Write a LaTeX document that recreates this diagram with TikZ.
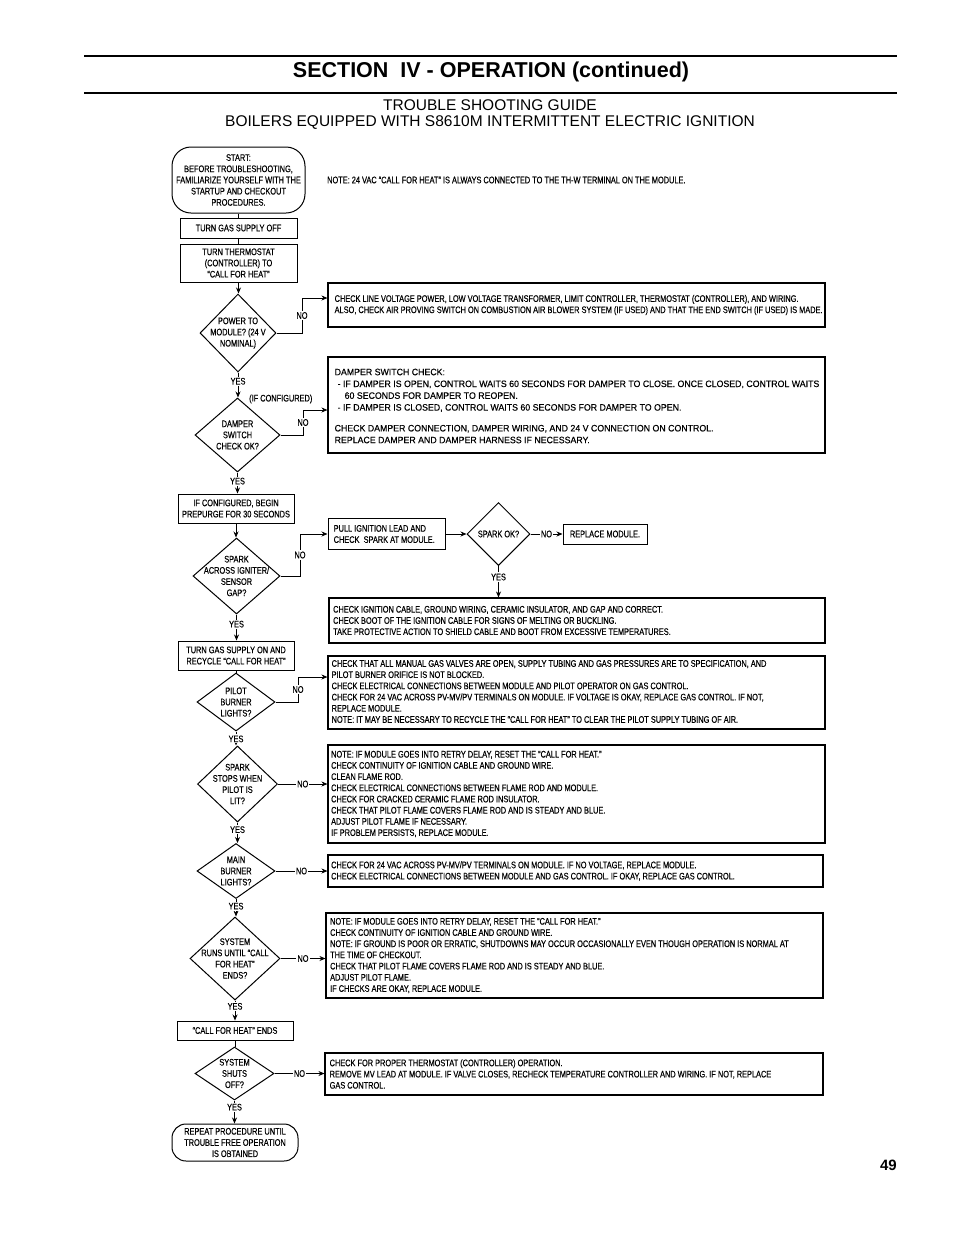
\documentclass[tikz,border=0pt]{standalone}
\usepackage{fontspec}
\setmainfont{Liberation Sans}
\newfontfamily\narrowf[FakeStretch=0.777,FakeBold=0.4]{Liberation Sans}
\newfontfamily\medf[FakeStretch=0.945,FakeBold=0.3]{Liberation Sans}
\usetikzlibrary{shapes.geometric,arrows.meta}
\begin{document}
\begin{tikzpicture}[x=1pt,y=-1pt,
  every node/.style={inner sep=0pt},
  txt/.style={font={\narrowf\fontsize{9.5}{11.2}\selectfont}},
  sbox/.style={draw, line width=1pt, txt, align=center},
  lbox/.style={draw, line width=1.1pt},
  btxt/.style={txt, align=left, anchor=west},
  dia/.style={draw, diamond, line width=1pt},
  dtxt/.style={txt, align=center},
  term/.style={draw, line width=1pt, rounded corners=19pt, txt, align=center},
  conn/.style={line width=0.8pt},
  arr/.style={conn, -{Stealth[length=6pt,width=5pt]}},
  lab/.style={txt, fill=white, inner sep=1.2pt},
]
\fill[white] (0,0) rectangle (954,1235);
\useasboundingbox (0,0) rectangle (954,1235);

% header
\draw[line width=2.5pt] (84,56) -- (897,56);
\node[font={\bfseries\fontsize{21.5}{24}\selectfont}] (title) at (491,72) {SECTION\ \ IV - OPERATION (continued)};
\draw[line width=2.5pt] (84,93) -- (897,93);
\node[font={\fontsize{15.5}{18}\selectfont}] (sub1) at (490,105) {TROUBLE SHOOTING GUIDE};
\node[font={\fontsize{15.5}{18}\selectfont}] (sub2) at (490,123) {BOILERS EQUIPPED WITH S8610M INTERMITTENT ELECTRIC IGNITION};
\node[anchor=east, font={\bfseries\fontsize{15}{18}\selectfont}] (pg) at (897,1165) {49};

% main column
\node[term, minimum width=133pt, minimum height=66pt] (st) at (238.5,180) {START:\\BEFORE TROUBLESHOOTING,\\FAMILIARIZE YOURSELF WITH THE\\STARTUP AND CHECKOUT\\PROCEDURES.};
\node[txt, anchor=west] (note) at (327,180) {NOTE: 24 VAC “CALL FOR HEAT” IS ALWAYS CONNECTED TO THE TH-W TERMINAL ON THE MODULE.};
\node[sbox, minimum width=117pt, minimum height=20pt] (off) at (238.5,228) {TURN GAS SUPPLY OFF};
\node[sbox, minimum width=117pt, minimum height=38pt] (th) at (238.5,263) {TURN THERMOSTAT\\(CONTROLLER) TO\\“CALL FOR HEAT”};

\node[dia, minimum width=76pt, minimum height=78pt] (d1) at (238,333) {};
\node[dtxt] (d1t) at (d1) {POWER TO\\MODULE? (24 V\\NOMINAL)};
\node[lbox, minimum width=497pt, minimum height=44pt] (b1) at (576.5,305) {};
\node[btxt] (b1t) at ([xshift=7pt]b1.west) {CHECK LINE VOLTAGE POWER, LOW VOLTAGE TRANSFORMER, LIMIT CONTROLLER, THERMOSTAT (CONTROLLER), AND WIRING.\\ALSO, CHECK AIR PROVING SWITCH ON COMBUSTION AIR BLOWER SYSTEM (IF USED) AND THAT THE END SWITCH (IF USED) IS MADE.};

\node[dia, minimum width=85pt, minimum height=74pt] (d2) at (237.5,435) {};
\node[dtxt] (d2t) at (d2) {DAMPER\\SWITCH\\CHECK OK?};
\node[txt, anchor=west] (ifc) at (249,399) {(IF CONFIGURED)};
\node[lbox, minimum width=497pt, minimum height=96pt] (b2) at (576.5,405) {};
\node[btxt, font={\medf\fontsize{9.3}{11.8}\selectfont}] (b2t) at ([xshift=7pt,yshift=-1pt]b2.west) {DAMPER SWITCH CHECK:\\\hspace*{3pt}- IF DAMPER IS OPEN, CONTROL WAITS 60 SECONDS FOR DAMPER TO CLOSE. ONCE CLOSED, CONTROL WAITS\\\hspace*{10pt}60 SECONDS FOR DAMPER TO REOPEN.\\\hspace*{3pt}- IF DAMPER IS CLOSED, CONTROL WAITS 60 SECONDS FOR DAMPER TO OPEN.\\[9pt]CHECK DAMPER CONNECTION, DAMPER WIRING, AND 24 V CONNECTION ON CONTROL.\\REPLACE DAMPER AND DAMPER HARNESS IF NECESSARY.};

\node[sbox, minimum width=116pt, minimum height=29pt] (pu) at (236,508.5) {IF CONFIGURED, BEGIN\\PREPURGE FOR 30 SECONDS};

\node[dia, minimum width=87pt, minimum height=76pt] (d3) at (236.5,576) {};
\node[dtxt] (d3t) at (d3) {SPARK\\ACROSS IGNITER/\\SENSOR\\GAP?};
\node[draw, line width=1pt, minimum width=117pt, minimum height=31pt] (pl) at (386.5,534) {};
\node[btxt] (plt) at ([xshift=6pt]pl.west) {PULL IGNITION LEAD AND\\CHECK\ \ SPARK AT MODULE.};
\node[dia, minimum width=63pt, minimum height=63pt] (d4) at (498.5,534) {};
\node[dtxt] (d4t) at (d4) {SPARK OK?};
\node[sbox, minimum width=84pt, minimum height=20pt] (rep) at (605,534) {REPLACE MODULE.};
\node[lbox, minimum width=496pt, minimum height=45pt] (b3) at (577,620.5) {};
\node[btxt] (b3t) at ([xshift=4.5pt]b3.west) {CHECK IGNITION CABLE, GROUND WIRING, CERAMIC INSULATOR, AND GAP AND CORRECT.\\CHECK BOOT OF THE IGNITION CABLE FOR SIGNS OF MELTING OR BUCKLING.\\TAKE PROTECTIVE ACTION TO SHIELD CABLE AND BOOT FROM EXCESSIVE TEMPERATURES.};

\node[sbox, minimum width=116pt, minimum height=29pt] (on) at (236,655.5) {TURN GAS SUPPLY ON AND\\RECYCLE “CALL FOR HEAT”};

\node[dia, minimum width=78pt, minimum height=58pt] (d5) at (236,702) {};
\node[dtxt] (d5t) at (d5) {PILOT\\BURNER\\LIGHTS?};
\node[lbox, minimum width=497pt, minimum height=73pt] (b5) at (576.5,692.5) {};
\node[btxt] (b5t) at ([xshift=4pt,yshift=1pt]b5.west) {CHECK THAT ALL MANUAL GAS VALVES ARE OPEN, SUPPLY TUBING AND GAS PRESSURES ARE TO SPECIFICATION, AND\\PILOT BURNER ORIFICE IS NOT BLOCKED.\\CHECK ELECTRICAL CONNECTIONS BETWEEN MODULE AND PILOT OPERATOR ON GAS CONTROL.\\CHECK FOR 24 VAC ACROSS PV-MV/PV TERMINALS ON MODULE. IF VOLTAGE IS OKAY, REPLACE GAS CONTROL. IF NOT,\\REPLACE MODULE.\\NOTE: IT MAY BE NECESSARY TO RECYCLE THE “CALL FOR HEAT” TO CLEAR THE PILOT SUPPLY TUBING OF AIR.};

\node[dia, minimum width=80pt, minimum height=76pt] (d6) at (237.5,784) {};
\node[dtxt] (d6t) at (d6) {SPARK\\STOPS WHEN\\PILOT IS\\LIT?};
\node[lbox, minimum width=497pt, minimum height=98pt] (b6) at (576.5,794) {};
\node[btxt] (b6t) at ([xshift=3.5pt]b6.west) {NOTE: IF MODULE GOES INTO RETRY DELAY, RESET THE “CALL FOR HEAT.”\\CHECK CONTINUITY OF IGNITION CABLE AND GROUND WIRE.\\CLEAN FLAME ROD.\\CHECK ELECTRICAL CONNECTIONS BETWEEN FLAME ROD AND MODULE.\\CHECK FOR CRACKED CERAMIC FLAME ROD INSULATOR.\\CHECK THAT PILOT FLAME COVERS FLAME ROD AND IS STEADY AND BLUE.\\ADJUST PILOT FLAME IF NECESSARY.\\IF PROBLEM PERSISTS, REPLACE MODULE.};

\node[dia, minimum width=78pt, minimum height=55pt] (d7) at (236,871) {};
\node[dtxt] (d7t) at (d7) {MAIN\\BURNER\\LIGHTS?};
\node[lbox, minimum width=495pt, minimum height=32pt] (b7) at (575.5,871) {};
\node[btxt] (b7t) at ([xshift=3.5pt]b7.west) {CHECK FOR 24 VAC ACROSS PV-MV/PV TERMINALS ON MODULE. IF NO VOLTAGE, REPLACE MODULE.\\CHECK ELECTRICAL CONNECTIONS BETWEEN MODULE AND GAS CONTROL. IF OKAY, REPLACE GAS CONTROL.};

\node[dia, minimum width=90pt, minimum height=83pt] (d8) at (235,958.5) {};
\node[dtxt] (d8t) at (d8) {SYSTEM\\RUNS UNTIL “CALL\\FOR HEAT”\\ENDS?};
\node[lbox, minimum width=497pt, minimum height=85pt] (b8) at (574.5,955.5) {};
\node[btxt] (b8t) at ([xshift=4.5pt]b8.west) {NOTE: IF MODULE GOES INTO RETRY DELAY, RESET THE “CALL FOR HEAT.”\\CHECK CONTINUITY OF IGNITION CABLE AND GROUND WIRE.\\NOTE: IF GROUND IS POOR OR ERRATIC, SHUTDOWNS MAY OCCUR OCCASIONALLY EVEN THOUGH OPERATION IS NORMAL AT\\THE TIME OF CHECKOUT.\\CHECK THAT PILOT FLAME COVERS FLAME ROD AND IS STEADY AND BLUE.\\ADJUST PILOT FLAME.\\IF CHECKS ARE OKAY, REPLACE MODULE.};

\node[sbox, minimum width=116pt, minimum height=19pt] (ends) at (235,1030.5) {“CALL FOR HEAT” ENDS};

\node[dia, minimum width=79pt, minimum height=53pt] (d9) at (234.5,1073.5) {};
\node[dtxt] (d9t) at (d9) {SYSTEM\\SHUTS\\OFF?};
\node[lbox, minimum width=498pt, minimum height=42pt] (b9) at (574,1074) {};
\node[btxt] (b9t) at ([xshift=5pt]b9.west) {CHECK FOR PROPER THERMOSTAT (CONTROLLER) OPERATION.\\REMOVE MV LEAD AT MODULE. IF VALVE CLOSES, RECHECK TEMPERATURE CONTROLLER AND WIRING. IF NOT, REPLACE\\GAS CONTROL.};

\node[term, rounded corners=14pt, minimum width=126pt, minimum height=37pt] (en) at (235,1142.5) {REPEAT PROCEDURE UNTIL\\TROUBLE FREE OPERATION\\IS OBTAINED};

% connectors
\draw[conn] (st.south) -- (st.south |- off.north);
\draw[conn] (off.south) -- (th.north);
\draw[arr] (th.south) -- (th.south |- d1.north);
\coordinate (n1) at (302,298);
\draw[arr] (d1.east) -| node[lab,pos=0.75] (no1) {NO} (n1) -- (n1 -| b1.west);
\draw[arr] (d1.south) -- node[lab,pos=0.35] (y1) {YES} (d1.south |- d2.north);
\coordinate (n2) at (303,410);
\draw[arr] (d2.east) -| node[lab,pos=0.75] (no2) {NO} (n2) -- (n2 -| b2.west);
\draw[arr] (d2.south) -- node[lab,pos=0.41] (y2) {YES} (d2.south |- pu.north);
\draw[arr] (pu.south) -- (pu.south |- d3.north);
\coordinate (n3) at (300,534);
\draw[arr] (d3.east) -| node[lab,pos=0.75] (no3) {NO} (n3) -- (n3 -| pl.west);
\draw[arr] (pl.east) -- (pl.east -| d4.west);
\draw[arr] (d4.east) -- node[lab] (no4) {NO} (d4.east -| rep.west);
\draw[arr] (d4.south) -- node[lab,pos=0.35] (y4) {YES} (d4.south |- b3.north);
\draw[arr] (d3.south) -- node[lab,pos=0.37] (y3) {YES} (d3.south |- on.north);
\draw[conn] (on.south) -- (on.south |- d5.north);
\coordinate (n5) at (298,677);
\draw[arr] (d5.east) -| node[lab,pos=0.75] (no5) {NO} (n5) -- (n5 -| b5.west);
\draw[arr] (d5.south) -- node[lab,pos=0.53] (y5) {YES} (d5.south |- d6.north);
\draw[arr] (d6.east) -- node[lab] (no6) {NO} (d6.east -| b6.west);
\draw[arr] (d6.south) -- node[lab,pos=0.35] (y6) {YES} (d6.south |- d7.north);
\draw[arr] (d7.east) -- node[lab] (no7) {NO} (d7.east -| b7.west);
\draw[arr] (d7.south) -- node[lab,pos=0.41] (y7) {YES} (d7.south |- d8.north);
\draw[arr] (d8.east) -- node[lab] (no8) {NO} (d8.east -| b8.west);
\draw[arr] (d8.south) -- node[lab,pos=0.29] (y8) {YES} (d8.south |- ends.north);
\draw[conn] (ends.south) -- (ends.south |- d9.north);
\draw[arr] (d9.east) -- node[lab] (no9) {NO} (d9.east -| b9.west);
\draw[arr] (d9.south) -- node[lab,pos=0.29] (y9) {YES} (d9.south |- en.north);
\end{tikzpicture}
\end{document}
